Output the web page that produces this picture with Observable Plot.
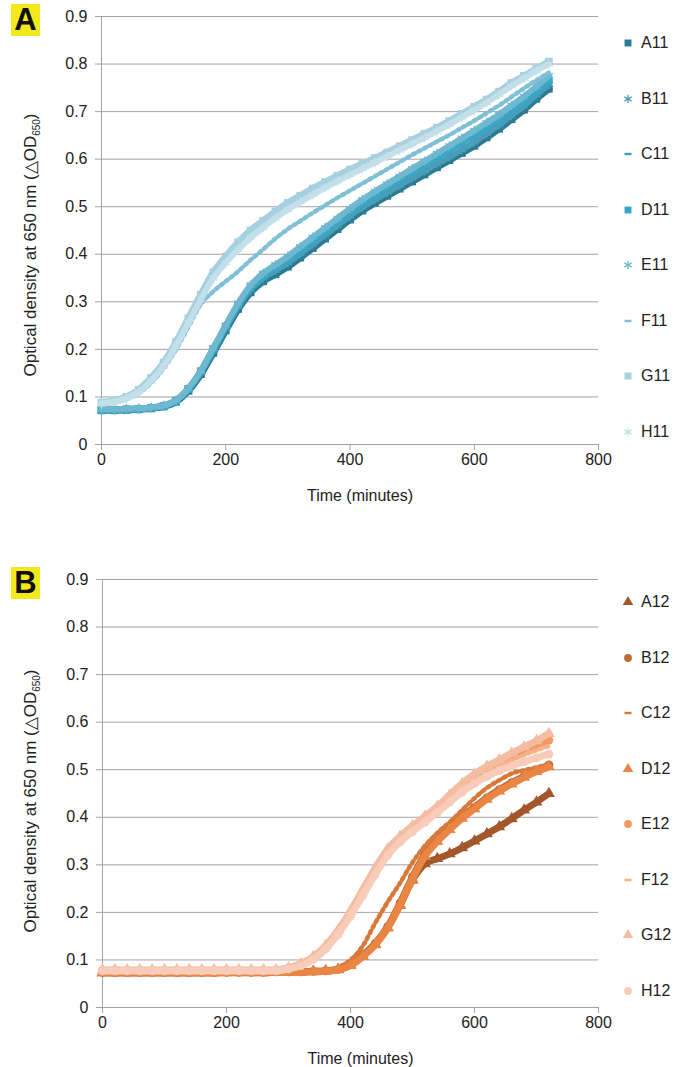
<!DOCTYPE html>
<html><head><meta charset="utf-8">
<script src="https://cdn.jsdelivr.net/npm/d3@7"></script>
<script src="https://cdn.jsdelivr.net/npm/@observablehq/plot@0.6"></script>
<style>
body{margin:0;background:#fff;font-family:"Liberation Sans",Arial,sans-serif;}
#page{position:relative;width:675px;height:1067px;overflow:hidden}
.panel{position:absolute;left:0;}
.tag{position:absolute;background:#f2e81c;color:#111;font-weight:bold;font-size:31px;line-height:32px;text-align:center;}
.legend{position:absolute;left:618px;}
.item{position:absolute;left:0;height:20px;display:flex;align-items:center;font-size:16px;color:#222;white-space:nowrap}
.item svg{width:20px;height:20px;margin-right:3px}
</style></head><body><div id="page"></div>
<script>
// sampling times (minutes)
const times = [0,20,40,60,80,100,120,140,160,180,200,220,240,260,280,300,320,340,360,380,400,420,440,460,480,500,520,540,560,580,600,620,640,660,680,700,720];
const yTicks = [0,0.1,0.2,0.3,0.4,0.5,0.6,0.7,0.8,0.9];
const xTicks = [0,200,400,600,800];

// Panel A (column 11)
const namesA = ["A11","B11","C11","D11","E11","F11","G11","H11"];
const A11 = [0.072,0.072,0.073,0.074,0.076,0.080,0.090,0.113,0.148,0.193,0.240,0.285,0.320,0.343,0.358,0.374,0.393,0.413,0.433,0.453,0.473,0.492,0.508,0.523,0.538,0.553,0.568,0.583,0.598,0.613,0.628,0.646,0.664,0.684,0.704,0.727,0.748];
const B11 = [0.073,0.073,0.074,0.075,0.077,0.081,0.092,0.116,0.152,0.198,0.245,0.290,0.326,0.350,0.366,0.382,0.401,0.421,0.441,0.461,0.481,0.499,0.515,0.530,0.545,0.560,0.575,0.590,0.605,0.620,0.636,0.654,0.672,0.692,0.712,0.735,0.757];
const C11 = [0.074,0.074,0.075,0.076,0.078,0.082,0.093,0.118,0.155,0.202,0.250,0.296,0.333,0.358,0.376,0.394,0.414,0.434,0.454,0.474,0.494,0.512,0.528,0.543,0.558,0.573,0.588,0.604,0.620,0.636,0.652,0.670,0.688,0.708,0.728,0.750,0.772];
const D11 = [0.073,0.073,0.074,0.075,0.077,0.081,0.092,0.117,0.154,0.201,0.248,0.294,0.332,0.357,0.374,0.391,0.411,0.431,0.451,0.471,0.491,0.510,0.527,0.543,0.559,0.575,0.590,0.605,0.620,0.636,0.652,0.669,0.686,0.705,0.724,0.745,0.766];
const E11 = [0.074,0.074,0.075,0.076,0.078,0.082,0.093,0.118,0.155,0.203,0.251,0.297,0.335,0.360,0.378,0.396,0.416,0.436,0.456,0.476,0.496,0.515,0.532,0.548,0.564,0.580,0.596,0.612,0.628,0.644,0.660,0.677,0.694,0.713,0.732,0.753,0.775];
const F11 = [0.085,0.088,0.095,0.108,0.130,0.160,0.200,0.248,0.295,0.322,0.343,0.364,0.388,0.410,0.433,0.453,0.470,0.487,0.503,0.519,0.534,0.549,0.564,0.579,0.594,0.609,0.623,0.637,0.651,0.666,0.681,0.697,0.713,0.731,0.749,0.766,0.782];
const G11 = [0.088,0.092,0.100,0.115,0.140,0.172,0.215,0.265,0.315,0.362,0.395,0.425,0.450,0.470,0.490,0.508,0.523,0.538,0.552,0.565,0.578,0.590,0.602,0.614,0.627,0.640,0.653,0.666,0.680,0.695,0.710,0.725,0.742,0.760,0.775,0.790,0.805];
const H11 = [0.086,0.090,0.097,0.111,0.134,0.165,0.207,0.256,0.305,0.350,0.382,0.410,0.435,0.456,0.476,0.494,0.510,0.525,0.540,0.554,0.567,0.580,0.593,0.606,0.619,0.632,0.645,0.659,0.673,0.688,0.703,0.719,0.736,0.754,0.770,0.786,0.800];

// Panel B (column 12)
const namesB = ["A12","B12","C12","D12","E12","F12","G12","H12"];
const A12 = [0.073,0.073,0.073,0.073,0.073,0.073,0.073,0.073,0.073,0.073,0.074,0.074,0.074,0.074,0.075,0.075,0.075,0.076,0.077,0.080,0.089,0.108,0.133,0.168,0.215,0.268,0.302,0.313,0.323,0.336,0.350,0.365,0.380,0.397,0.415,0.432,0.450];
const B12 = [0.074,0.074,0.074,0.074,0.074,0.074,0.074,0.074,0.074,0.074,0.074,0.074,0.074,0.074,0.075,0.075,0.075,0.076,0.077,0.080,0.090,0.110,0.135,0.170,0.220,0.275,0.322,0.352,0.377,0.401,0.421,0.441,0.458,0.473,0.486,0.498,0.510];
const C12 = [0.075,0.075,0.075,0.075,0.075,0.075,0.075,0.075,0.075,0.075,0.075,0.075,0.075,0.075,0.075,0.075,0.076,0.077,0.079,0.085,0.100,0.130,0.178,0.222,0.262,0.305,0.340,0.367,0.390,0.415,0.440,0.462,0.478,0.492,0.499,0.505,0.512];
const D12 = [0.073,0.073,0.073,0.073,0.073,0.073,0.073,0.073,0.073,0.073,0.073,0.073,0.073,0.073,0.074,0.074,0.074,0.075,0.076,0.079,0.088,0.107,0.132,0.167,0.216,0.270,0.318,0.349,0.374,0.398,0.418,0.438,0.455,0.470,0.484,0.496,0.506];
const E12 = [0.078,0.078,0.078,0.078,0.078,0.078,0.078,0.078,0.078,0.078,0.078,0.078,0.078,0.078,0.078,0.082,0.089,0.103,0.126,0.158,0.197,0.242,0.287,0.327,0.355,0.377,0.397,0.418,0.442,0.466,0.486,0.502,0.516,0.529,0.541,0.552,0.562];
const F12 = [0.077,0.077,0.077,0.077,0.077,0.077,0.077,0.077,0.077,0.077,0.077,0.077,0.077,0.077,0.077,0.081,0.088,0.102,0.124,0.155,0.194,0.239,0.283,0.322,0.350,0.372,0.392,0.413,0.436,0.459,0.478,0.494,0.508,0.520,0.531,0.541,0.550];
const G12 = [0.079,0.079,0.079,0.079,0.079,0.079,0.079,0.079,0.079,0.079,0.079,0.079,0.079,0.079,0.079,0.084,0.092,0.107,0.130,0.163,0.203,0.248,0.293,0.333,0.360,0.382,0.402,0.423,0.447,0.471,0.491,0.507,0.521,0.535,0.548,0.561,0.576];
const H12 = [0.077,0.077,0.077,0.077,0.077,0.077,0.077,0.077,0.077,0.077,0.077,0.077,0.077,0.077,0.077,0.081,0.088,0.101,0.123,0.154,0.192,0.236,0.280,0.320,0.348,0.370,0.390,0.410,0.432,0.453,0.471,0.486,0.498,0.508,0.517,0.525,0.533];

// styles
const colorsA = ["#2a7b93","#4b9db6","#3a9fc0","#36a7c8","#6fb8cf","#80c0d6","#a6cfe0","#c3e0ea"];
const symbolsA = ["square","asterisk","dash","square","asterisk","dash","square","asterisk"];
const colorsB = ["#a2582c","#c06a35","#d8793a","#ea8644","#f29a62","#f6b08a","#f5bca2","#f8ccb9"];
const symbolsB = ["triangle","circle","dash","triangle","circle","dash","triangle","circle"];

const page = document.getElementById("page");
const GRID = "#a3a3a3";

function buildPanel({top, marginLeft, names, series, colors, symbols, letter, tagTop, titleY, legendTop}) {
  const rows = names.flatMap((n, k) => times.map((t, i) => ({series: n, t, od: series[k][i]})));
  const marks = [
    Plot.gridY(yTicks, {stroke: GRID, strokeOpacity: 1}),
    Plot.ruleX([0], {stroke: GRID}),
    Plot.ruleY([0], {stroke: GRID}),
    Plot.axisY(yTicks, {tickSize: 6, tickPadding: 8, tickFormat: d => d === 0 ? "0" : d3.format(".1f")(d), label: null, stroke: GRID, fill: "#222"}),
    Plot.axisX(xTicks, {tickSize: 6, tickPadding: 3, tickFormat: d => String(d), label: null, stroke: GRID, fill: "#222"})
  ];
  names.forEach((n, k) => {
    const d = rows.filter(r => r.series === n);
    const s = symbols[k], c = colors[k];
    if (s === "dash") {
      marks.push(Plot.line(d, {x: "t", y: "od", stroke: c, strokeWidth: 4.5, strokeDasharray: "2.5,3.8", curve: "monotone-x"}));
    } else {
      marks.push(Plot.line(d, {x: "t", y: "od", stroke: c, strokeWidth: s === "asterisk" ? 6 : 7, curve: "monotone-x"}));
      marks.push(Plot.dot(d, s === "asterisk"
        ? {x: "t", y: "od", symbol: s, r: 4.4, stroke: c, fill: "none", strokeWidth: 1.3}
        : {x: "t", y: "od", symbol: s, r: 4.4, fill: c, stroke: "none"}));
    }
  });
  marks.push(Plot.text(["Time (minutes)"], {text: d => d, frameAnchor: "bottom", dy: 51, dx: 10, lineAnchor: "middle", fill: "#222", fontSize: 16}));
  const chart = Plot.plot({
    width: 625, height: 504, marginTop: 16, marginBottom: 60, marginLeft, marginRight: 27,
    x: {domain: [0, 800]}, y: {domain: [0, 0.9]},
    style: {fontFamily: '"Liberation Sans", Arial, sans-serif', fontSize: "16px", color: "#222", background: "transparent", overflow: "visible"},
    marks
  });
  const svg = d3.select(chart);
  const t = svg.append("text")
    .attr("transform", `translate(36,${titleY}) rotate(-90)`)
    .attr("text-anchor", "middle")
    .attr("font-size", 17).attr("fill", "#222")
    .attr("font-family", '"Liberation Sans", Arial, sans-serif');
  t.append("tspan").text("Optical density at 650 nm (\u25B3OD");
  t.append("tspan").attr("font-size", 10).attr("dy", 4).text("650");
  t.append("tspan").attr("dy", -4).text(")");
  const wrap = document.createElement("div");
  wrap.className = "panel";
  wrap.style.top = top + "px";
  wrap.appendChild(chart);
  page.appendChild(wrap);

  const tag = document.createElement("div");
  tag.className = "tag";
  tag.style.left = "11px"; tag.style.top = tagTop + "px";
  tag.style.width = "29px"; tag.style.height = "32px";
  tag.textContent = letter;
  page.appendChild(tag);

  const leg = document.createElement("div");
  leg.className = "legend";
  leg.style.top = legendTop + "px";
  names.forEach((n, k) => {
    const item = document.createElement("div");
    item.className = "item";
    item.style.top = (k * 55.5 - 10) + "px";
    const s = symbols[k], c = colors[k];
    const ns = "http://www.w3.org/2000/svg";
    const sv = document.createElementNS(ns, "svg");
    sv.setAttribute("viewBox", "-10 -10 20 20");
    let el;
    if (s === "dash") {
      el = document.createElementNS(ns, "rect");
      el.setAttribute("x", -3.5); el.setAttribute("y", -1.2); el.setAttribute("width", 7); el.setAttribute("height", 2.4);
      el.setAttribute("fill", c);
    } else {
      const type = {square: d3.symbolSquare, asterisk: d3.symbolAsterisk, triangle: d3.symbolTriangle, circle: d3.symbolCircle}[s];
      el = document.createElementNS(ns, "path");
      el.setAttribute("d", d3.symbol(type, s === "asterisk" ? 50 : 48)());
      if (s === "asterisk") { el.setAttribute("stroke", c); el.setAttribute("fill", "none"); el.setAttribute("stroke-width", 1.2); }
      else el.setAttribute("fill", c);
    }
    sv.appendChild(el);
    item.appendChild(sv);
    item.appendChild(document.createTextNode(n));
    leg.appendChild(item);
  });
  page.appendChild(leg);
}

buildPanel({top: 0, marginLeft: 101, names: namesA, series: [A11,B11,C11,D11,E11,F11,G11,H11], colors: colorsA, symbols: symbolsA, letter: "A", tagTop: 4, titleY: 245, legendTop: 43});
buildPanel({top: 563, marginLeft: 102, names: namesB, series: [A12,B12,C12,D12,E12,F12,G12,H12], colors: colorsB, symbols: symbolsB, letter: "B", tagTop: 567, titleY: 238, legendTop: 602});
</script>
</body></html>
